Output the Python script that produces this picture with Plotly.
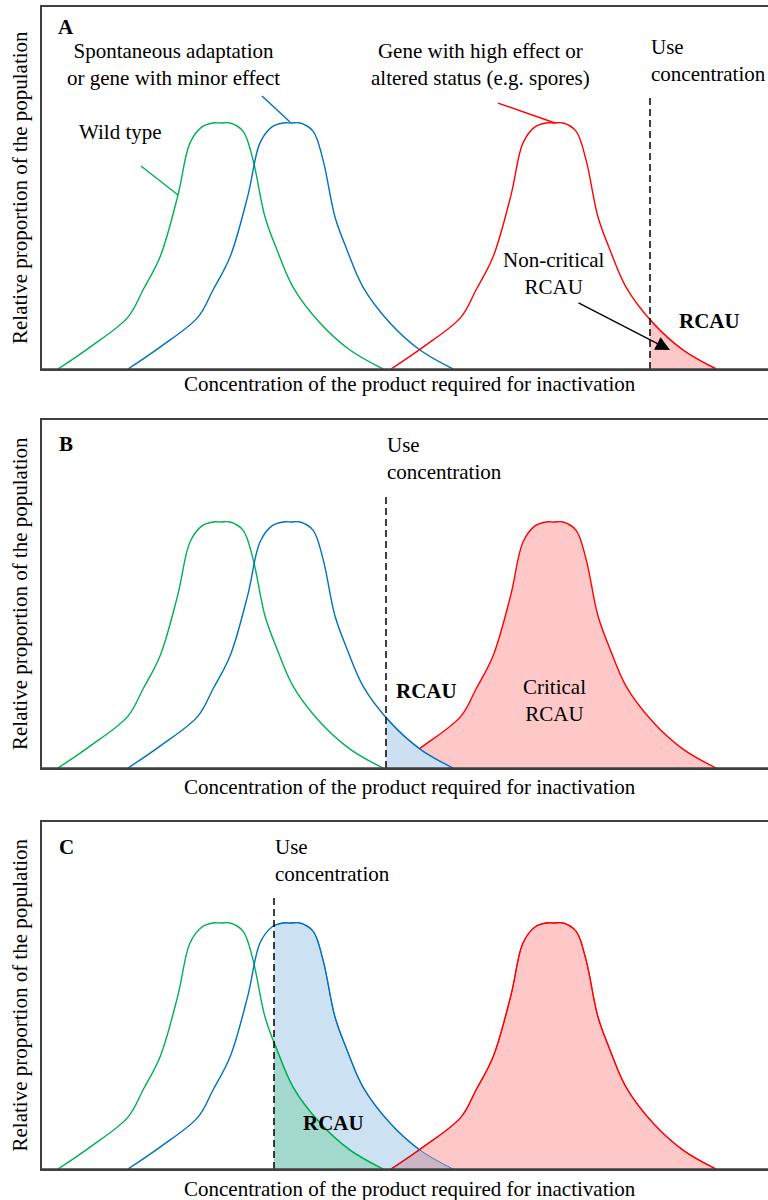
import plotly.graph_objects as go

# ---------------- data (x: concentration units, y: relative proportion, peak = 1) -------------
wild_x = [16, 48, 86, 101, 118, 136, 148, 160, 171, 179, 188, 201, 211, 223, 235, 251, 278, 308, 341]
wild_y = [0, 0.089, 0.211, 0.321, 0.455, 0.707, 0.919, 0.984, 1.0, 1.0, 1.0, 0.967, 0.85, 0.618, 0.484, 0.333, 0.187, 0.077, 0]

minor_x = [86, 118, 156, 171, 188, 206, 218, 230, 241, 249, 258, 271, 281, 293, 305, 321, 348, 378, 411]
minor_y = [0, 0.089, 0.211, 0.321, 0.455, 0.707, 0.919, 0.984, 1.0, 1.0, 1.0, 0.967, 0.85, 0.618, 0.484, 0.333, 0.187, 0.077, 0]

high_x = [349, 381, 419, 434, 451, 469, 481, 493, 504, 512, 521, 534, 544, 556, 568, 584, 611, 641, 674]
high_y = [0, 0.089, 0.211, 0.321, 0.455, 0.707, 0.919, 0.984, 1.0, 1.0, 1.0, 0.967, 0.85, 0.618, 0.484, 0.333, 0.187, 0.077, 0]

panel_labels = ["A", "B", "C"]
use_concentration = [608, 344, 232]   # one per panel
x_title = "Concentration of the product required for inactivation"
y_title = "Relative proportion of the population"

# ---------------- styling ----------------
GREEN = "#00B050"
BLUE = "#0070C0"
RED = "#FF0000"
PINK = "#FFC8C8"
LIGHTBLUE = "#CCE0F1"
LIGHTBLUE_T = "rgba(0,110,190,0.2)"
TEAL = "#A3D8CC"
AXC = "#404040"
FONT = "Liberation Serif"
FS = 21

W, H = 768, 1200
X_LEFT = 42 / W
X_MAX = 726
panel_dom = [[0.6925, 0.99417], [0.36, 0.65], [0.025833, 0.315]]
panel_ytop = [1.4715, 1.4146, 1.4106]
DASH_TOP = 1.106

fig = go.Figure()


def curve(x, y, color, xa, ya, fill=None, fillcolor=None, width=1.4):
    fig.add_trace(go.Scatter(
        x=x, y=y, mode="lines",
        line=dict(color=color, width=width, shape="spline", smoothing=1.0),
        fill=fill, fillcolor=fillcolor,
        xaxis=xa, yaxis=ya, hoverinfo="skip", showlegend=False))


# Panel A (main subplot x/y) and its clip subplot x4/y4
curve(wild_x, wild_y, GREEN, "x", "y")
curve(minor_x, minor_y, BLUE, "x", "y")
curve(high_x, high_y, RED, "x", "y")
curve(high_x, high_y, RED, "x4", "y4", fill="tozeroy", fillcolor=PINK)

# Panel B
curve(wild_x, wild_y, GREEN, "x2", "y2")
curve(minor_x, minor_y, BLUE, "x2", "y2")
curve(high_x, high_y, RED, "x2", "y2", fill="tozeroy", fillcolor=PINK)
curve(minor_x, minor_y, BLUE, "x5", "y5", fill="tozeroy", fillcolor=LIGHTBLUE)

# Panel C
curve(wild_x, wild_y, GREEN, "x3", "y3")
curve(minor_x, minor_y, BLUE, "x3", "y3")
curve(high_x, high_y, RED, "x3", "y3", fill="tozeroy", fillcolor=PINK)
curve(minor_x, minor_y, BLUE, "x6", "y6", fill="tozeroy", fillcolor=LIGHTBLUE_T, width=0.8)
curve(wild_x, wild_y, GREEN, "x6", "y6", fill="tozeroy", fillcolor=TEAL)
curve(high_x, high_y, RED, "x6", "y6", width=1.0)

# ---------------- axes ----------------
axstyle = dict(showline=True, linecolor=AXC, linewidth=1.5, showticklabels=False,
               ticks="", showgrid=False, zeroline=False, fixedrange=True)
layout_axes = {}
for i in range(3):
    s = "" if i == 0 else str(i + 1)
    layout_axes["xaxis" + s] = dict(domain=[X_LEFT, 1], range=[0, X_MAX], mirror=True,
                                    anchor="y" + s, **axstyle)
    layout_axes["yaxis" + s] = dict(domain=panel_dom[i], range=[0, panel_ytop[i]], mirror=False,
                                    anchor="x" + s, **axstyle)
    # clip subplot starting at the use concentration
    c = use_concentration[i]
    k = str(i + 4)
    layout_axes["xaxis" + k] = dict(domain=[(42 + c) / W, 1], range=[c, X_MAX], visible=False,
                                    anchor="y" + k, fixedrange=True)
    layout_axes["yaxis" + k] = dict(domain=panel_dom[i], range=[0, panel_ytop[i]], visible=False,
                                    anchor="x" + k, fixedrange=True)

shapes = []
annotations = []


def txt(text, x, y, xref, yref, bold=False, xanchor="center", angle=0):
    annotations.append(dict(
        text=f"<b>{text}</b>" if bold else text, x=x, y=y, xref=xref, yref=yref,
        showarrow=False, xanchor=xanchor, yanchor="middle", textangle=angle,
        font=dict(family=FONT, size=FS, color="black"), align="center" if xanchor == "center" else "left"))


for i in range(3):
    s = "" if i == 0 else str(i + 1)
    xr, yr = "x" + s, "y" + s
    c = use_concentration[i]
    # use-concentration dashed line
    shapes.append(dict(type="line", xref=xr, yref=yr, x0=c, x1=c, y0=0, y1=DASH_TOP,
                       line=dict(color="black", width=1.5, dash="7px,4px")))
    # bottom axis line redrawn above fills
    shapes.append(dict(type="line", xref=xr, yref=yr, x0=0, x1=X_MAX, y0=0, y1=0,
                       line=dict(color=AXC, width=1.5)))
    # axis titles
    d0, d1 = panel_dom[i]
    txt(y_title, 20 / W, (d0 + d1) / 2, "paper", "paper", angle=-90)

txt(x_title, 410 / W, 1 - 384 / H, "paper", "paper")
txt(x_title, 410 / W, 1 - 787 / H, "paper", "paper")
txt(x_title, 410 / W, 1 - 1189 / H, "paper", "paper")

# Panel A texts
txt(panel_labels[0], 24, 1.390, "x", "y", bold=True)
txt("Spontaneous adaptation<br>or gene with minor effect", 131, 1.236, "x", "y")
txt("Wild type", 78, 0.963, "x", "y")
txt("Gene with high effect or<br>altered status (e.g. spores)", 438, 1.236, "x", "y")
txt("Use<br>concentration", use_concentration[0] - 1, 1.252, "x", "y", xanchor="left")
txt("Non-critical<br>RCAU", 512, 0.388, "x", "y")
txt("RCAU", 667, 0.195, "x", "y", bold=True)
# pointer lines
shapes.append(dict(type="line", xref="x", yref="y", x0=99, y0=0.825, x1=136, y1=0.707,
                   line=dict(color=GREEN, width=1.4)))
shapes.append(dict(type="line", xref="x", yref="y", x0=220, y0=1.11, x1=248, y1=1.004,
                   line=dict(color=BLUE, width=1.4)))
shapes.append(dict(type="line", xref="x", yref="y", x0=456, y0=1.081, x1=513, y1=1.0,
                   line=dict(color=RED, width=1.4)))
annotations.append(dict(x=628, y=0.077, ax=535, ay=0.272, xref="x", yref="y", axref="x", ayref="y",
                        text="", showarrow=True, arrowhead=2, arrowsize=2.2, arrowwidth=1.3,
                        arrowcolor="black"))

# Panel B texts
txt(panel_labels[1], 24, 1.319, "x2", "y2", bold=True)
txt("Use<br>concentration", use_concentration[1] - 1, 1.260, "x2", "y2", xanchor="left")
txt("RCAU", 384, 0.313, "x2", "y2", bold=True)
txt("Critical<br>RCAU", 512, 0.274, "x2", "y2")

# Panel C texts
txt(panel_labels[2], 24, 1.309, "x3", "y3", bold=True)
txt("Use<br>concentration", use_concentration[2] - 1, 1.254, "x3", "y3", xanchor="left")
txt("RCAU", 291, 0.187, "x3", "y3", bold=True)

fig.update_layout(
    width=W, height=H, margin=dict(l=0, r=0, t=0, b=0),
    paper_bgcolor="white", plot_bgcolor="rgba(0,0,0,0)",
    showlegend=False, shapes=shapes, annotations=annotations,
    font=dict(family=FONT, size=FS, color="black"),
    **layout_axes)

fig.write_html("out.html", config={"displayModeBar": False},
               post_script="document.body.style.margin='0px';document.body.style.overflow='hidden';")
